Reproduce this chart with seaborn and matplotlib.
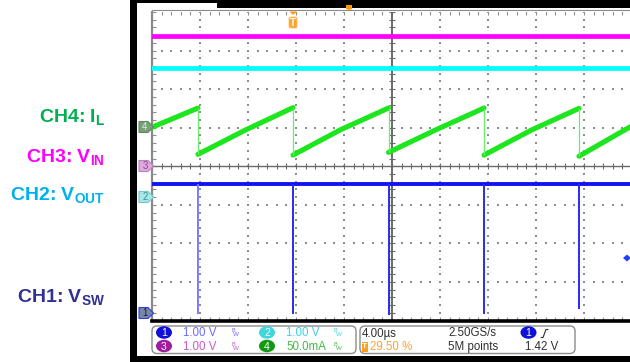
import matplotlib
matplotlib.use("Agg")
import numpy as np
import pandas as pd
import matplotlib.pyplot as plt
import seaborn as sns
from matplotlib import font_manager
from matplotlib.patches import Rectangle, FancyBboxPatch, Polygon, Ellipse

# ---------------- data (time in µs on screen, amplitude in divisions) ----------------
t_span = [0.0, 39.83]                               # visible record (4 µs/div)
edge_times = [3.83, 11.75, 19.71, 27.67, 35.58]     # switching instants
il_start = 1.01                                     # CH4 at left edge
il_peak = [1.51, 1.52, 1.51, 1.51, 1.50]            # CH4 just before each edge
il_valley = [0.31, 0.29, 0.36, 0.29, 0.26]          # CH4 just after each edge
il_mid = [0.94, 0.95, 0.95, 0.94]                   # CH4 mid-ramp (full ramps)
il_end = 1.02                                       # CH4 at right edge
vsw_high = -0.47                                    # CH1 high level
vsw_low = [-3.84, -3.82, -3.87, -3.82, -3.71]       # CH1 spike minima
vin_level = 3.39                                    # CH3
vout_level = 2.55                                   # CH2

label_text = [r"CH4: I$_\mathbf{L}$", r"CH3: V$_\mathbf{IN}$",
              r"CH2: V$_\mathbf{OUT}$", r"CH1: V$_\mathbf{SW}$"]
label_colors = ["#00b050", "#ff00ff", "#00b0f0", "#2e3192"]
ch_tags = ["4", "3", "2", "1"]
scale_text = ["1.00 V", "1.00 V", "1.00 V", "50.0mA"]   # ch1, ch3, ch2, ch4
timebase = "4.00µs"
trig_pos = "29.50 %"
sample_rate = "2.50GS/s"
record_len = "5M points"
trig_level = "1.42 V"

# ---------------- style ----------------
sns.set_style("white")
plt.rcParams["font.family"] = ["Liberation Sans", "DejaVu Sans"]
plt.rcParams["mathtext.fontset"] = "custom"
plt.rcParams["mathtext.bf"] = "Liberation Sans:bold"
plt.rcParams["mathtext.rm"] = "Liberation Sans"
plt.rcParams["mathtext.it"] = "Liberation Sans:italic"


def has_font(name):
    try:
        font_manager.findfont(font_manager.FontProperties(family=name),
                              fallback_to_default=False)
        return True
    except Exception:
        return False


NARROW = "Liberation Sans Narrow" if has_font("Liberation Sans Narrow") else "Liberation Sans"

W, H = 630, 362
fig = plt.figure(figsize=(W / 100, H / 100), dpi=100)

# background overlay in pixel coordinates
bg = fig.add_axes([0, 0, 1, 1], zorder=0)
bg.set_xlim(0, W)
bg.set_ylim(H, 0)
bg.axis("off")

# black frame pieces
bg.add_patch(Rectangle((130, 0), 7, H, color="black", lw=0))
bg.add_patch(Rectangle((130, 356), W - 130, 6, color="black", lw=0))
bg.add_patch(Rectangle((137, 0), W - 137, 3, color="black", lw=0))
bg.add_patch(Rectangle((217, 0), W - 217, 7.5, color="black", lw=0))
bg.plot([152, W], [9.5, 9.5], color="#8a8a8a", lw=0.8)

# left channel labels
label_base_y = [122, 162, 200, 302]
for txt, col, yb in zip(label_text, label_colors, label_base_y):
    bg.text(105, yb, txt, color=col, fontsize=14, fontweight="bold",
            ha="right", va="baseline", family="Liberation Sans")

# info panel
bg.add_patch(FancyBboxPatch((152, 326), 204, 27.5,
                            boxstyle="round,pad=0,rounding_size=5",
                            fc="white", ec="#8c8c8c", lw=1.0))
bg.add_patch(FancyBboxPatch((360, 326), 215, 27.5,
                            boxstyle="round,pad=0,rounding_size=5",
                            fc="white", ec="#8c8c8c", lw=1.0))

row_y = [333.5, 347]
badges = [("1", 164, row_y[0], "#1010d8", "#6a6aff", scale_text[0]),
          ("3", 164, row_y[1], "#a01ca0", "#cc55cc", scale_text[1]),
          ("2", 267, row_y[0], "#3fd6dc", "#40d0e0", scale_text[2]),
          ("4", 267, row_y[1], "#119a11", "#44bb44", scale_text[3])]
for num, xc, yc, bcol, tcol, s in badges:
    bg.add_patch(Ellipse((xc, yc - 1), 16, 12.5, fc=bcol, ec="none"))
    bg.text(xc, yc - 0.5, num, color="white", fontsize=7.5, ha="center",
            va="center", family=NARROW)
    bg.text(xc + 19, yc, s, color=tcol, fontsize=8.3, ha="left", va="center",
            family=NARROW)
    bx = xc + 67
    bg.text(bx, yc - 2.5, "B", color=tcol, fontsize=4, ha="left", va="center",
            family=NARROW)
    bg.text(bx + 2, yc + 1.5, "W", color=tcol, fontsize=4.5, ha="left",
            va="center", family=NARROW)

bg.text(362, row_y[0], timebase, color="#303030", fontsize=8.3, ha="left",
        va="center", family=NARROW)
bg.add_patch(Rectangle((361.5, 342), 6, 10, fc="#ff9f1a", ec="none"))
bg.text(364.5, 347, "T", color="white", fontsize=6, fontweight="bold",
        ha="center", va="center", family=NARROW)
bg.text(370, row_y[1], trig_pos, color="#ffa030", fontsize=8.3, ha="left",
        va="center", family=NARROW)
bg.text(448, row_y[0], sample_rate, color="#303030", fontsize=8.3, ha="left",
        va="center", family=NARROW)
bg.text(448, row_y[1], record_len, color="#303030", fontsize=8.3, ha="left",
        va="center", family=NARROW)
bg.add_patch(Ellipse((528.5, 332.5), 16, 12.5, fc="#1010d8", ec="none"))
bg.text(528.5, 333, "1", color="white", fontsize=7.5, ha="center",
        va="center", family=NARROW)
bg.plot([541, 543, 546, 548], [337.5, 337.5, 329.5, 329.5], color="#303030", lw=0.8)
bg.text(525, row_y[1], trig_level, color="#303030", fontsize=8.3, ha="left",
        va="center", family=NARROW)

# ---------------- scope graticule axes ----------------
left_px, top_px, bot_px = 152, 12, 320.5
ax = fig.add_axes([left_px / W, (H - bot_px) / H, (W - left_px) / W,
                   (bot_px - top_px) / H], zorder=1)
ax.set_facecolor("white")
ax.set_xlim(t_span[0], t_span[1])
ax.set_ylim(-4, 4)
ax.set_xticks([])
ax.set_yticks([])
for side in ("top", "right"):
    ax.spines[side].set_visible(False)
ax.spines["left"].set_color("#8a8a8a")
ax.spines["left"].set_linewidth(1.6)
ax.spines["bottom"].set_color("black")
ax.spines["bottom"].set_linewidth(2.6)

grid_col = "#8e8e8e"
ydots = np.arange(-4, 4.001, 0.2)
xdots = np.arange(0, 40.0, 0.8)
for xv in [4, 8, 12, 16, 24, 28, 32, 36]:
    ax.scatter(np.full(len(ydots), xv), ydots, s=1.5, marker="s", c=grid_col,
               linewidths=0, zorder=1)
for yv in [-3, -2, -1, 1, 2, 3]:
    ax.scatter(xdots, np.full(len(xdots), yv), s=1.5, marker="s", c=grid_col,
               linewidths=0, zorder=1)
# edge ticks
ax.scatter(xdots, np.full(len(xdots), 3.97), s=5, marker="|", c=grid_col,
           linewidths=0.8, zorder=1)
ax.scatter(xdots, np.full(len(xdots), -3.95), s=5, marker="|", c=grid_col,
           linewidths=0.8, zorder=1)
ax.scatter(np.full(len(ydots), 0.15), ydots, s=5, marker="_", c=grid_col,
           linewidths=0.8, zorder=1)
# centre axes with ticks
ax.axhline(0, color="#6a6a6a", lw=1.0, zorder=1.5)
ax.axvline(20, color="#6a6a6a", lw=1.4, zorder=1.5)
ax.scatter(xdots, np.zeros(len(xdots)), s=14, marker="|", c="#6a6a6a",
           linewidths=0.8, zorder=1.5)
ax.scatter(np.full(len(ydots), 20), ydots, s=14, marker="_", c="#6a6a6a",
           linewidths=0.8, zorder=1.5)

# CH3 / CH2 flat traces
df_flat = pd.DataFrame({"t": t_span * 2,
                        "v": [vin_level] * 2 + [vout_level] * 2,
                        "ch": ["CH3"] * 2 + ["CH2"] * 2})
sns.lineplot(data=df_flat, x="t", y="v", hue="ch",
             palette={"CH3": "#ff00ff", "CH2": "#00ffff"},
             estimator=None, legend=False, ax=ax, lw=3.4, zorder=3)

# CH4 inductor current (sawtooth)
rows = [(0, t_span[0], il_start), (0, edge_times[0], il_peak[0])]
for k in range(1, len(edge_times)):
    t0, t1 = edge_times[k - 1], edge_times[k]
    rows += [(k, t0, il_valley[k - 1]), (k, (t0 + t1) / 2, il_mid[k - 1]),
             (k, t1, il_peak[k])]
rows += [(len(edge_times), edge_times[-1], il_valley[-1]),
         (len(edge_times), t_span[1], il_end)]
df_il = pd.DataFrame(rows, columns=["seg", "t", "v"])
sns.lineplot(data=df_il, x="t", y="v", units="seg", estimator=None,
             color="#1ee61e", lw=3.7, ax=ax, zorder=3, legend=False)
ax.vlines(edge_times, il_valley, il_peak, color="#66ee66", lw=0.9, zorder=3)

# CH1 switch node
df_sw = pd.DataFrame({"t": t_span, "v": [vsw_high] * 2})
sns.lineplot(data=df_sw, x="t", y="v", estimator=None, color="#1414f0",
             lw=2.8, ax=ax, zorder=4, legend=False)
spike_cols = ["#7a7aff"] + ["#2a2af0"] * (len(edge_times) - 1)
ax.vlines(edge_times, vsw_low, [vsw_high] * len(edge_times), colors=spike_cols,
          lw=1.4, zorder=4)
ax.set_xlabel("")
ax.set_ylabel("")

# ---------------- foreground markers ----------------
fg = fig.add_axes([0, 0, 1, 1], zorder=2)
fg.set_xlim(0, W)
fg.set_ylim(H, 0)
fg.axis("off")
fg.patch.set_alpha(0)

tag_style = {"4": ("#7b9f7b", "#5f8a5f", "#d8f0d8"),
             "3": ("#dcaadc", "#c080c0", "#8a4a8a"),
             "2": ("#ace6e6", "#70cccc", "#2a9a9a"),
             "1": ("#7a86a8", "#2f40d8", "#1c1c40")}
ch_tag_y = [127, 166, 197, 313]
for tg, yc in zip(ch_tags, ch_tag_y):
    fc, ec, tc = tag_style[tg]
    fg.add_patch(Polygon([(139, yc - 5.5), (148, yc - 5.5), (153.5, yc),
                          (148, yc + 5.5), (139, yc + 5.5)],
                         closed=True, fc=fc, ec=ec, lw=0.8))
    fg.text(145, yc + 0.3, tg, color=tc, fontsize=7, ha="center", va="center",
            family=NARROW)

# trigger position marker
fg.add_patch(Polygon([(289.5, 11.5), (296.5, 11.5), (293, 15)], closed=True,
                     fc="#ff9900", ec="none"))
fg.add_patch(FancyBboxPatch((289, 17), 8, 11, boxstyle="round,pad=0,rounding_size=2",
                            fc="#ffa526", ec="#ffbe66", lw=0.6))
fg.text(293, 22.8, "T", color="white", fontsize=7, fontweight="bold",
        ha="center", va="center", family=NARROW)
fg.add_patch(Polygon([(346, 5), (352, 5), (352, 9), (349, 10), (346, 9)],
                     closed=True, fc="#ff9900", ec="none"))
# trigger level marker
fg.add_patch(Polygon([(623, 258), (627, 254.5), (631, 258), (627, 261.5)],
                     closed=True, fc="#2040ff", ec="none"))

fig.savefig("out.png", dpi=100)
